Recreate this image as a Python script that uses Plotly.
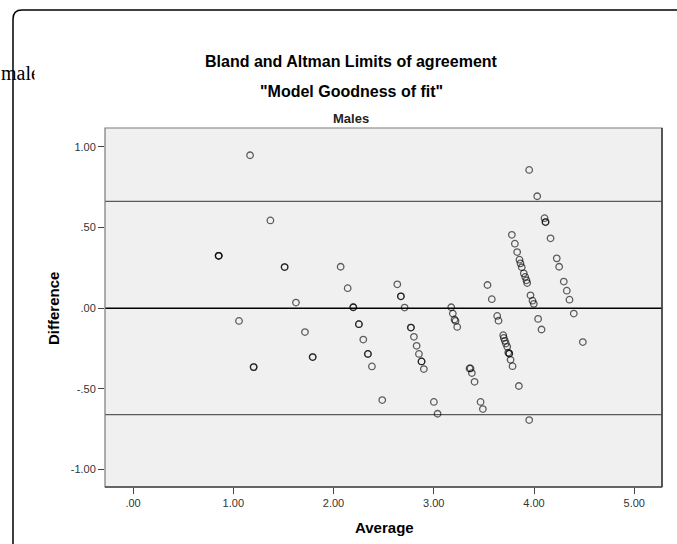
import plotly.graph_objects as go

# ---- data ----
average = [
    1.167, 1.370, 0.854, 0.854, 0.854, 1.512, 1.512, 1.625, 1.057, 1.203, 1.203,
    1.715, 1.792, 1.792,
    2.071, 2.141, 2.197, 2.197, 2.253, 2.253, 2.297, 2.343, 2.343, 2.383, 2.486,
    2.636, 2.672, 2.672, 2.709, 2.772, 2.772, 2.802, 2.829, 2.852, 2.878, 2.878,
    2.901, 3.001, 3.038,
    3.174, 3.190, 3.207, 3.217, 3.234, 3.357, 3.367, 3.380, 3.407, 3.467, 3.490,
    3.536, 3.579, 3.633, 3.646, 3.693, 3.699, 3.709, 3.719, 3.733, 3.743, 3.753,
    3.753, 3.766, 3.786, 3.849,
    3.779, 3.809, 3.832, 3.855, 3.865, 3.878, 3.898, 3.912, 3.925, 3.932,
    3.952, 3.952, 3.965, 3.985, 3.998, 4.032, 4.041, 4.075, 4.105, 4.115, 4.115,
    4.165, 4.227, 4.251, 4.297, 4.327, 4.354, 4.397, 4.487,
]
difference = [
    0.948, 0.544, 0.325, 0.325, 0.325, 0.255, 0.255, 0.035, -0.079, -0.365, -0.365,
    -0.148, -0.303, -0.303,
    0.257, 0.124, 0.006, 0.006, -0.099, -0.099, -0.194, -0.283, -0.283, -0.361, -0.569,
    0.148, 0.074, 0.074, 0.004, -0.120, -0.120, -0.177, -0.233, -0.283, -0.330, -0.330,
    -0.377, -0.581, -0.654,
    0.006, -0.033, -0.070, -0.079, -0.116, -0.373, -0.373, -0.402, -0.456, -0.581, -0.625,
    0.144, 0.056, -0.048, -0.077, -0.167, -0.184, -0.202, -0.219, -0.239, -0.275, -0.281,
    -0.281, -0.320, -0.359, -0.482,
    0.455, 0.400, 0.348, 0.301, 0.278, 0.254, 0.216, 0.194, 0.173, 0.156,
    0.857, -0.693, 0.080, 0.047, 0.027, 0.694, -0.066, -0.132, 0.558, 0.534, 0.534,
    0.433, 0.309, 0.257, 0.165, 0.109, 0.053, -0.033, -0.210,
]
mean_diff = 0.0
upper_loa = 0.662
lower_loa = -0.660

x_tickvals = [0, 1, 2, 3, 4, 5]
x_ticktext = [".00", "1.00", "2.00", "3.00", "4.00", "5.00"]
y_tickvals = [-1.0, -0.5, 0.0, 0.5, 1.0]
y_ticktext = ["-1.00", "-.50", ".00", ".50", "1.00"]

title_1 = "Bland and Altman Limits of agreement"
title_2 = '"Model Goodness of fit"'
title_3 = "Males"
x_title = "Average"
y_title = "Difference"
side_text = "male"

# ---- figure ----
W, H = 677, 544
ML, MR, MT, MB = 105, 15, 128, 57
PW = W - ML - MR
PH = H - MT - MB


def px(x):
    return (x - ML) / PW


def py(y):
    return (H - MB - y) / PH


sans = "Arial, Liberation Sans, sans-serif"

fig = go.Figure()
fig.add_trace(go.Scatter(
    x=average, y=difference, mode="markers",
    marker=dict(symbol="circle-open", size=6.5, color="rgba(0,0,0,0.62)",
                line=dict(width=1.3, color="rgba(0,0,0,0.62)")),
    showlegend=False, hoverinfo="x+y",
))

shapes = []
for val, col in [(upper_loa, "#5a5a5a"), (lower_loa, "#5a5a5a"), (mean_diff, "#000000")]:
    shapes.append(dict(type="line", xref="x domain", yref="y", x0=0, x1=1, y0=val, y1=val,
                       line=dict(color=col, width=1.3), layer="below"))
# plot border
shapes.append(dict(type="rect", xref="paper", yref="paper", x0=0, x1=1, y0=0, y1=1,
                   line=dict(color="#7a7a7a", width=1.2), layer="above"))
shapes.append(dict(type="line", xref="paper", yref="paper", x0=1, x1=1, y0=0, y1=1,
                   line=dict(color="#3a3a3a", width=1.5), layer="above"))
shapes.append(dict(type="line", xref="paper", yref="paper", x0=0, x1=1, y0=0, y1=0,
                   line=dict(color="#4a4a4a", width=1.3), layer="above"))
# outer rounded frame
L, T = px(13), py(10)
dx, dy = 9 / PW, 9 / PH
shapes.append(dict(type="path", xref="paper", yref="paper",
                   path=f"M {L},{py(600)} L {L},{T - dy} Q {L},{T} {L + dx},{T} L {px(720)},{T}",
                   line=dict(color="#000000", width=1.5)))


def ann(text, x, y, size, color="#000", angle=0, **kw):
    d = dict(text=text, x=px(x), y=py(y), xref="paper", yref="paper",
             xanchor="center", yanchor="middle", showarrow=False, textangle=angle,
             font=dict(family=sans, size=size, color=color))
    d.update(kw)
    return d


annotations = [
    ann(f"<b>{title_1}</b>", 351, 61.5, 16),
    ann(f"<b>{title_2}</b>", 351, 91.5, 16),
    ann(f"<b>{title_3}</b>", 351, 119, 13, color="#222"),
    ann(f"<b>{x_title}</b>", 384, 527, 15),
    ann(f"<b>{y_title}</b>", 53, 309, 15, angle=-90),
    dict(text=side_text, x=px(-1), y=py(73), xref="paper", yref="paper",
         xanchor="left", yanchor="middle", align="left", showarrow=False,
         font=dict(family="Liberation Serif, Times New Roman, serif", size=20, color="#000")),
    # the side text is cut off at its right in the reference: white mask over the tail
    dict(text=" ", x=px(33.5), y=py(73), xref="paper", yref="paper",
         xanchor="left", yanchor="middle", showarrow=False, width=14, height=30,
         bgcolor="white", borderpad=0, font=dict(size=10)),
]

fig.update_layout(
    width=W, height=H,
    margin=dict(l=ML, r=MR, t=MT, b=MB),
    paper_bgcolor="white", plot_bgcolor="#F0F0F0",
    shapes=shapes, annotations=annotations,
    xaxis=dict(range=[-0.28, 5.277], tickvals=x_tickvals, ticktext=x_ticktext,
               showgrid=False, zeroline=False, showline=False,
               ticks="outside", ticklen=6, tickwidth=1.2, tickcolor="#444",
               tickfont=dict(family=sans, size=11, color="#333")),
    yaxis=dict(range=[-1.108, 1.117], tickvals=y_tickvals, ticktext=y_ticktext,
               showgrid=False, zeroline=False, showline=False,
               ticks="outside", ticklen=6, tickwidth=1.2, tickcolor="#444",
               tickfont=dict(family=sans, size=11, color="#333")),
)

fig.write_html("out.html", config={"displayModeBar": False})

# remove the browser's default page margin so the figure sits at the window's corner
with open("out.html", encoding="utf-8") as f:
    html = f.read()
html = html.replace("<body>", '<body style="margin:0;overflow:hidden">', 1)
with open("out.html", "w", encoding="utf-8") as f:
    f.write(html)
